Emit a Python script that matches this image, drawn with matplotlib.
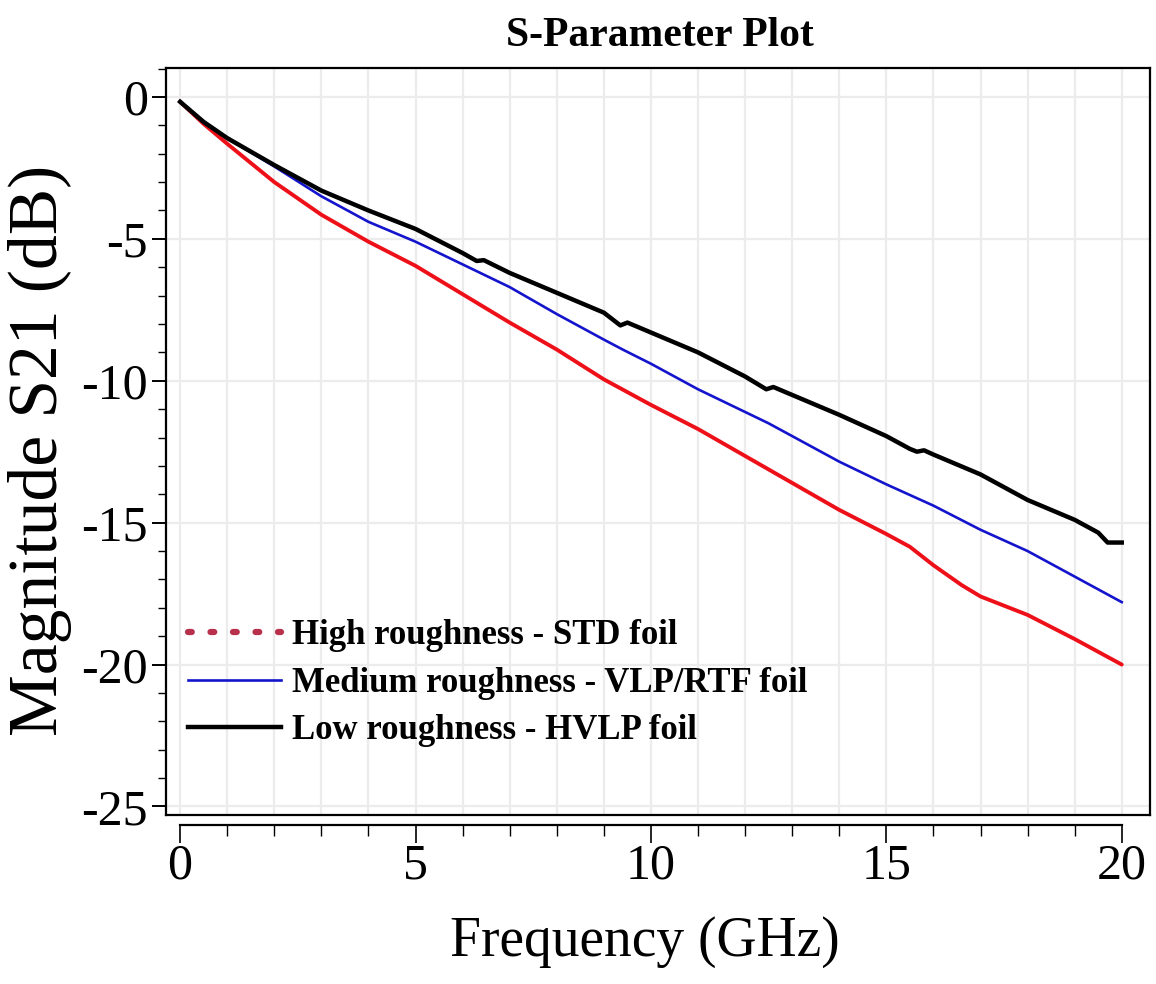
import matplotlib
matplotlib.use("Agg")
import matplotlib.pyplot as plt
from matplotlib.lines import Line2D
from matplotlib.ticker import MultipleLocator

# ---------------- data ----------------
title = "S-Parameter Plot"
x_label = "Frequency (GHz)"
y_label = "Magnitude S21 (dB)"
labels = ["High roughness - STD foil",
          "Medium roughness - VLP/RTF foil",
          "Low roughness - HVLP foil"]

freq_high = [0, 0.5, 1, 2, 3, 4, 5, 6, 7, 8, 9, 10, 11, 12, 13, 14, 15,
             15.5, 16, 16.6, 17, 18, 19, 20]
s21_high = [-0.17, -0.95, -1.65, -3.0, -4.15, -5.1, -5.95, -6.95, -7.95, -8.9,
            -9.95, -10.85, -11.7, -12.65, -13.6, -14.55, -15.4,
            -15.85, -16.5, -17.2, -17.6, -18.25, -19.1, -20.0]

freq_med = [0, 0.5, 1, 2, 3, 4, 5, 6, 7, 8, 9, 9.4, 10, 11, 12, 12.5, 13, 14,
            15, 15.6, 16, 17, 18, 19, 20]
s21_med = [-0.17, -0.9, -1.45, -2.45, -3.5, -4.4, -5.1, -5.9, -6.7, -7.65,
           -8.55, -8.9, -9.4, -10.3, -11.1, -11.5, -11.95, -12.85,
           -13.65, -14.1, -14.4, -15.25, -16.0, -16.9, -17.8]

freq_low = [0, 0.5, 1, 2, 3, 4, 5, 6, 6.3, 6.45, 7, 8, 9, 9.35, 9.5, 10, 11,
            12, 12.45, 12.6, 13, 14, 15, 15.5, 15.65, 15.8, 16, 17, 18, 19,
            19.5, 19.7, 20]
s21_low = [-0.17, -0.88, -1.45, -2.4, -3.3, -4.0, -4.65, -5.5, -5.78, -5.75,
           -6.2, -6.9, -7.6, -8.05, -7.95, -8.3, -9.0, -9.85, -10.3, -10.22,
           -10.5, -11.2, -11.95, -12.4, -12.5, -12.45, -12.6, -13.3, -14.2,
           -14.9, -15.35, -15.7, -15.7]

x_ticks = [0, 5, 10, 15, 20]
y_ticks = [0, -5, -10, -15, -20, -25]

# ---------------- figure ----------------
serif = ["Liberation Serif", "DejaVu Serif"]
plt.rcParams["font.family"] = serif

fig = plt.figure(figsize=(11.56, 9.84), dpi=100)
ax = fig.add_axes([166 / 1156, 1 - 815 / 984, (1150 - 166) / 1156, (815 - 68) / 984])

ax.set_xlim(-0.3, 20.6)
ax.set_ylim(-25.3, 1.02)

# grid
ax.xaxis.set_major_locator(MultipleLocator(5))
ax.xaxis.set_minor_locator(MultipleLocator(1))
ax.yaxis.set_major_locator(MultipleLocator(5))
ax.yaxis.set_minor_locator(MultipleLocator(1))
ax.grid(True, which="both", axis="x", color="#ececec", lw=1.6)
ax.grid(True, which="major", axis="y", color="#ececec", lw=1.6)
ax.set_axisbelow(True)

# curves
ax.plot(freq_high, s21_high, color="#ee1018", lw=2.8, solid_capstyle="round")
ax.plot(freq_med, s21_med, color="#1414cc", lw=1.9)
ax.plot(freq_low, s21_low, color="black", lw=3.2)

# frame
for s in ["top", "left", "right"]:
    ax.spines[s].set_linewidth(1.6)
ax.plot([0, 1], [0, 0], transform=ax.transAxes, color="black", lw=1.6,
        clip_on=False)

# bottom axis: detached line from 0 to 20 with downward ticks
ax.spines["bottom"].set_position(("outward", 7))
ax.spines["bottom"].set_bounds(0, 20)
ax.spines["bottom"].set_linewidth(1.6)
ax.set_xticks(x_ticks)
ax.set_xticklabels([str(v) for v in x_ticks])
ax.tick_params(axis="x", which="major", direction="out", length=13, width=1.2,
               labelsize=36, pad=0)
ax.tick_params(axis="x", which="minor", direction="out", length=8, width=1.0)

ax.set_yticks(y_ticks)
ax.set_yticklabels([str(v) for v in y_ticks])
ax.tick_params(axis="y", which="major", direction="out", length=10, width=1.4,
               labelsize=36, pad=3)
ax.tick_params(axis="y", which="minor", direction="out", length=6, width=1.0)

# legend
handles = [
    Line2D([], [], color="#b8304c", lw=4.5, linestyle=(0, (0.6, 3.0)),
           dash_capstyle="round"),
    Line2D([], [], color="#1414cc", lw=1.9),
    Line2D([], [], color="black", lw=3.2),
]
leg = ax.legend(handles, labels, loc="upper left",
                bbox_to_anchor=(0.022, 0.262), frameon=False,
                prop={"family": serif, "weight": "bold", "size": 25},
                handlelength=2.7, handletextpad=0.3, labelspacing=0.42,
                borderpad=0, borderaxespad=0)

# texts
fig.text(660 / 1156, 1 - 36 / 984, title, ha="center", va="center",
         fontsize=30, fontweight="bold")
fig.text(645 / 1156, 1 - 942 / 984, x_label, ha="center", va="center",
         fontsize=40)
fig.text(40 / 1156, 1 - 450 / 984, y_label, ha="center", va="center",
         fontsize=50, rotation=90)

fig.savefig("out.png", dpi=100)
